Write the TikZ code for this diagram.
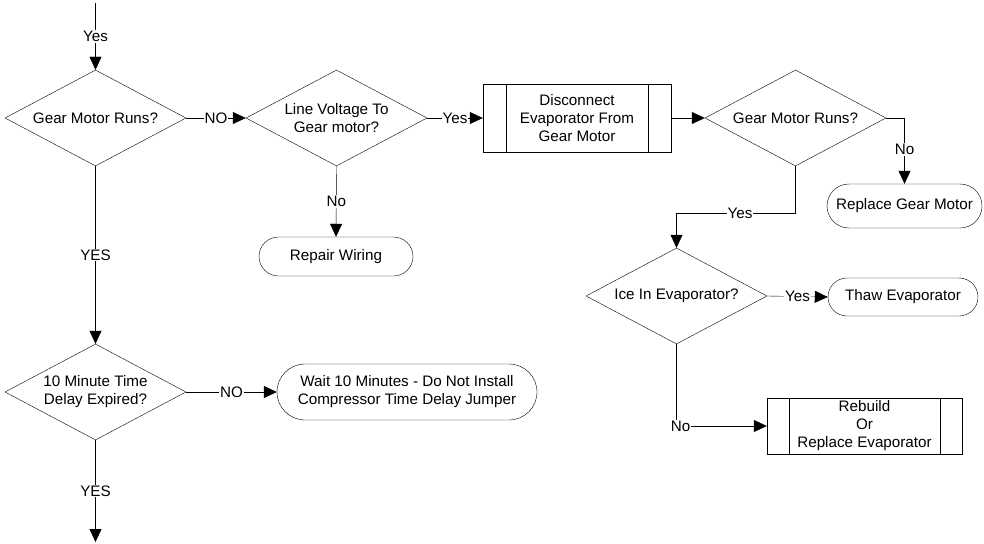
\documentclass[tikz,border=0pt]{standalone}
\usepackage{fontspec}
\setmainfont{Liberation Sans}
\usetikzlibrary{shapes.geometric,arrows.meta}
\tikzset{
  every node/.style={font=\fontsize{15.2}{18}\selectfont},
  decision/.style={draw, shape=diamond, inner sep=0pt,
    minimum width=181pt, minimum height=96pt,
    label={[align=center, inner sep=0pt]center:#1}},
  terminal/.style={draw, rectangle, align=center, inner sep=0pt},
  predef/.style={draw, rectangle, align=center, inner sep=0pt},
  flow/.style={-{Triangle[length=13pt,width=12pt]}},
  lbl/.style={fill=white, inner sep=1pt},
  line width=0.8pt
}
\begin{document}
\begin{tikzpicture}[x=1pt,y=-1pt]
\useasboundingbox (0,0) rectangle (984,543);

% decisions (text set as a centred label so the outline keeps its size)
\node[decision={Gear Motor Runs?}] (d1) at (95.5,118) {};
\node[decision={Line Voltage To\\Gear motor?}] (d2) at (336.5,118) {};
\node[decision={Gear Motor Runs?}] (d3) at (795.5,118) {};
\node[decision={Ice In Evaporator?}] (d4) at (676.5,296) {};
\node[decision={10 Minute Time\\Delay Expired?}] (d5) at (95.5,392) {};

% predefined processes
\node[predef, minimum width=188pt, minimum height=68pt] (p1) at (577,118)
  {Disconnect\\Evaporator From\\Gear Motor};
\draw ([xshift=23pt]p1.north west) -- ([xshift=23pt]p1.south west);
\draw ([xshift=-23pt]p1.north east) -- ([xshift=-23pt]p1.south east);

\node[predef, minimum width=195pt, minimum height=56pt] (p2) at (864.5,426)
  {Rebuild\\Or\\Replace Evaporator};
\draw ([xshift=22pt]p2.north west) -- ([xshift=22pt]p2.south west);
\draw ([xshift=-22pt]p2.north east) -- ([xshift=-22pt]p2.south east);

% terminals
\node[terminal, minimum width=155pt, minimum height=44pt, rounded corners=22pt]
  (t1) at (904.5,206) {Replace Gear Motor};
\node[terminal, minimum width=150pt, minimum height=38pt, rounded corners=19pt]
  (t2) at (903,297) {Thaw Evaporator};
\node[terminal, minimum width=154pt, minimum height=39pt, rounded corners=19.5pt]
  (t3) at (336,256.5) {Repair Wiring};
\node[terminal, minimum width=260pt, minimum height=56pt, rounded corners=28pt]
  (t4) at (407,392) {Wait 10 Minutes - Do Not Install\\Compressor Time Delay Jumper};

% free ends and bends
\coordinate (start) at (95.5,3);
\coordinate (finish) at (95.5,542);
\coordinate (j3) at (795.5,213);

% connectors
\draw[flow] (start) -- node[lbl, pos=0.5] {Yes} (d1.north);
\draw[flow] (d1.east) -- node[lbl, pos=0.5] {NO} (d2.west);
\draw[flow] (d2.east) -- node[lbl, pos=0.5] {Yes} (p1.west);
\draw[flow] (d2.south) -- node[lbl, pos=0.5] {No} (t3.north);
\draw[flow] (d1.south) -- node[lbl, pos=0.5] {YES} (d5.north);
\draw[flow] (d5.east) -- node[lbl, pos=0.5] {NO} (t4.west);
\draw[flow] (d5.south) -- node[lbl, pos=0.5] {YES} (finish);
\draw[flow] (p1.east) -- (d3.west);
\draw[flow] (d3.east) -| node[lbl, pos=0.74] {No} (t1.north);
\draw[flow] (d3.south) -- (j3) -| node[lbl, pos=0.233] {Yes} (d4.north);
\draw[flow] (d4.east) -- node[lbl, pos=0.5] {Yes} (t2.west);
\draw[flow] (d4.south) |- node[lbl, pos=0.5, xshift=4pt] {No} (p2.west);
\end{tikzpicture}
\end{document}
